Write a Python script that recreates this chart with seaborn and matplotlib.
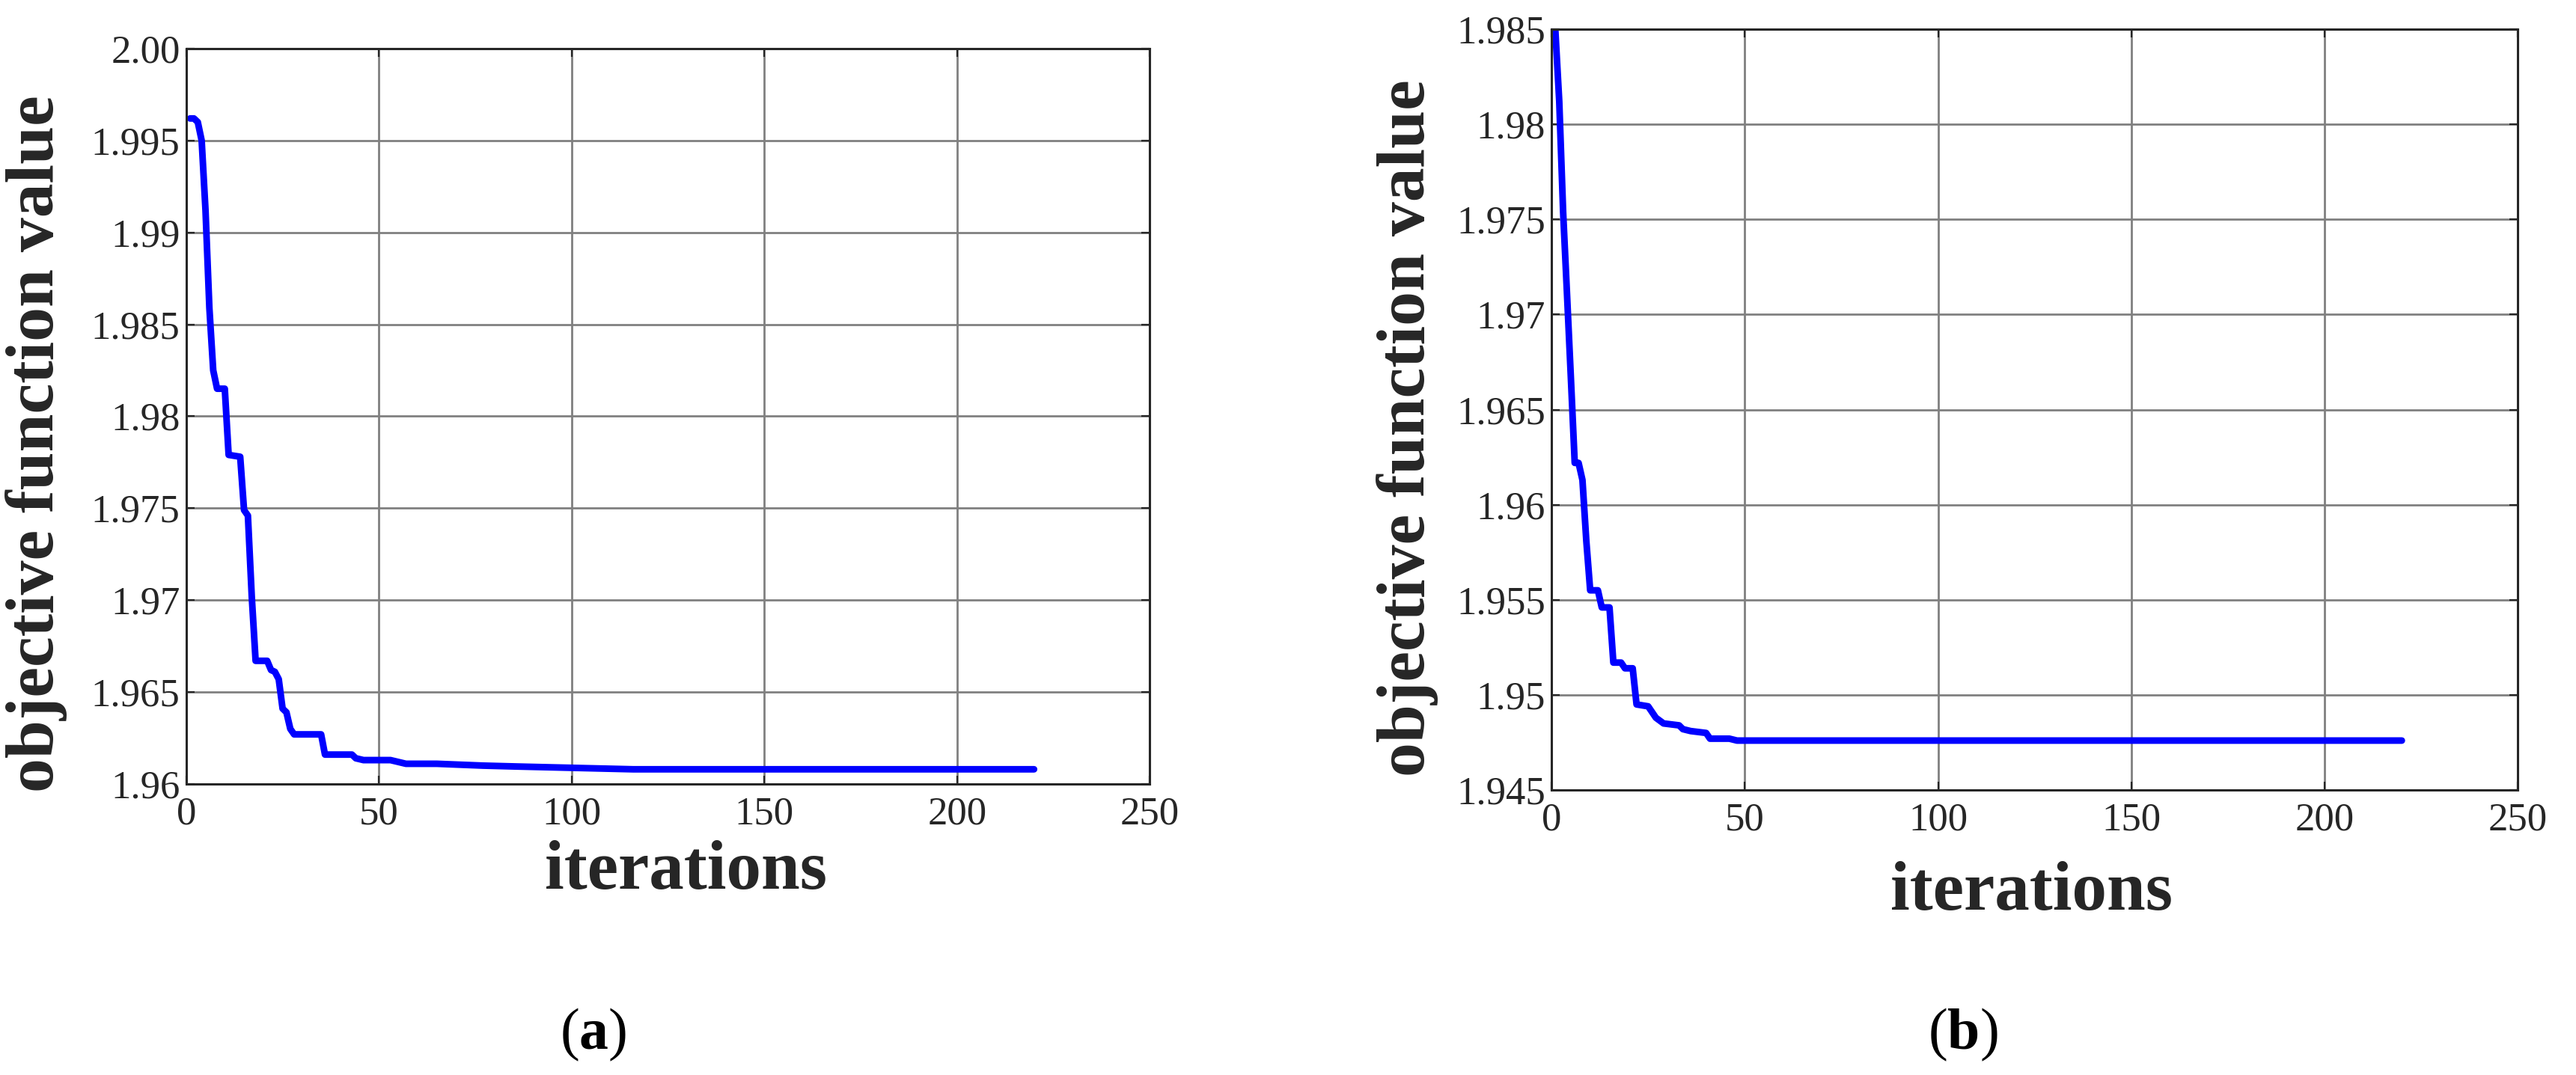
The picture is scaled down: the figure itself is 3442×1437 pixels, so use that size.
import matplotlib
matplotlib.use("Agg")
import matplotlib.pyplot as plt
import seaborn as sns

sns.set_style("white")
plt.rcParams['font.family'] = ['Liberation Serif', 'DejaVu Serif']
plt.rcParams['mathtext.fontset'] = 'custom'
plt.rcParams['mathtext.rm'] = 'Liberation Serif'
plt.rcParams['mathtext.bf'] = 'Liberation Serif:bold'

# (a) objective value vs iterations at the step corners
iter_a = [1, 2, 3, 4, 5, 6, 7, 8, 10, 11, 14, 15, 16, 17, 18, 21, 22, 23, 24, 25,
          26, 27, 28, 35, 36, 43, 44, 46, 53, 57, 65, 77, 86, 116, 220]
obj_a = [1.9962, 1.9962, 1.9960, 1.9950, 1.9912, 1.9859, 1.9825, 1.9815, 1.9815, 1.9779,
         1.9778, 1.9749, 1.9746, 1.9702, 1.9667, 1.9667, 1.9662, 1.9661, 1.9657, 1.9641,
         1.9639, 1.9630, 1.9627, 1.9627, 1.9616, 1.9616, 1.9614, 1.9613, 1.9613, 1.9611,
         1.9611, 1.9610, 1.96095, 1.9608, 1.9608]

# (b)
iter_b = [1, 2, 3, 4, 5, 6, 7, 8, 9, 10, 12, 13, 15, 16, 18, 19, 21, 22, 25, 27,
          29, 33, 34, 36, 40, 41, 46, 48, 220]
obj_b = [1.9849, 1.9812, 1.9754, 1.9711, 1.9667, 1.9622, 1.9622, 1.9613, 1.9581, 1.9555,
         1.9555, 1.9546, 1.9546, 1.9517, 1.9517, 1.9514, 1.9514, 1.9495, 1.9494, 1.9488,
         1.9485, 1.9484, 1.9482, 1.9481, 1.9480, 1.9477, 1.9477, 1.9476, 1.9476]

xticks = [0, 50, 100, 150, 200, 250]
yticks_a = [1.96, 1.965, 1.97, 1.975, 1.98, 1.985, 1.99, 1.995, 2.00]
ylabels_a = ['1.96', '1.965', '1.97', '1.975', '1.98', '1.985', '1.99', '1.995', '2.00']
yticks_b = [1.945, 1.95, 1.955, 1.96, 1.965, 1.97, 1.975, 1.98, 1.985]
ylabels_b = ['1.945', '1.95', '1.955', '1.96', '1.965', '1.97', '1.975', '1.98', '1.985']

fig = plt.figure(figsize=(17.21, 7.185), dpi=200)
ax_a = fig.add_axes([0.0723, 0.2707, 0.3740, 0.6841])
ax_b = fig.add_axes([0.6023, 0.2651, 0.3751, 0.7077])

panels = [
    (ax_a, iter_a, obj_a, yticks_a, ylabels_a, (0.519, -0.1424), (-0.138, 0.463)),
    (ax_b, iter_b, obj_b, yticks_b, ylabels_b, (0.497, -0.157), (-0.132, 0.476)),
]

for ax, xs, ys, yt, yl, xlab_pos, ylab_pos in panels:
    sns.lineplot(x=xs, y=ys, ax=ax, color='#0000ff', linewidth=3.2,
                 estimator=None, sort=False)
    ax.set_xlim(0, 250)
    ax.set_ylim(yt[0], yt[-1])
    ax.set_xticks(xticks)
    ax.set_xticklabels([str(t) for t in xticks])
    ax.set_yticks(yt)
    ax.set_yticklabels(yl)
    ax.grid(True, color='#808080', linewidth=1.0)
    ax.set_axisbelow(True)
    for sp in ax.spines.values():
        sp.set_visible(True)
        sp.set_color('#262626')
        sp.set_linewidth(1.1)
    ax.tick_params(direction='in', top=True, right=True, bottom=True, left=True,
                   length=4, width=0.8, color='#262626', labelsize=19,
                   labelcolor='#262626')
    ax.tick_params(axis='x', pad=6)
    ax.tick_params(axis='y', pad=3)

    ax.set_xlabel('iterations', fontsize=33.5, fontweight='bold', color='#262626')
    ax.xaxis.label.set_va('baseline')
    ax.xaxis.set_label_coords(*xlab_pos)
    ax.set_ylabel('objective function value', fontsize=33, fontweight='bold',
                  color='#262626')
    ax.yaxis.label.set_va('baseline')
    ax.yaxis.set_label_coords(*ylab_pos)

fig.text(793 / 3442, 1 - 1402 / 1437, r'($\mathbf{a}$)', fontsize=28,
         ha='center', va='baseline', color='black')
fig.text(2623 / 3442, 1 - 1402 / 1437, r'($\mathbf{b}$)', fontsize=28,
         ha='center', va='baseline', color='black')

fig.savefig('out.png', dpi=200)
